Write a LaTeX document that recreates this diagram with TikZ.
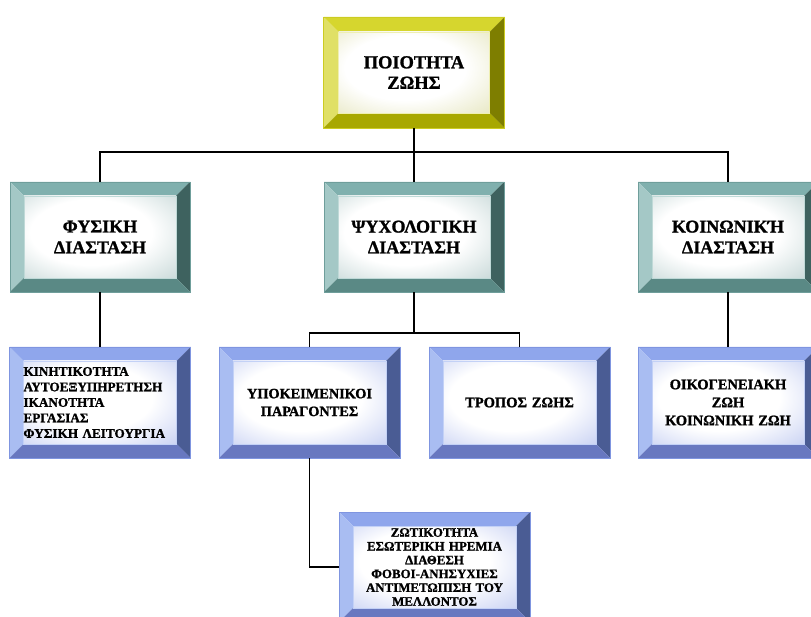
\documentclass[tikz,border=0pt]{standalone}
\usepackage{fontspec}
\setmainfont{Liberation Serif}[BoldFont={Liberation Serif Bold},BoldFeatures={FakeBold=1.2}]
\definecolor{yTop}{HTML}{D6D62E}
\definecolor{yLeft}{HTML}{E0E066}
\definecolor{yRight}{HTML}{7E7E00}
\definecolor{yBot}{HTML}{A8A800}
\definecolor{yBord}{HTML}{CCCC22}
\definecolor{yFace}{HTML}{CDCD80}
\definecolor{tTop}{HTML}{80B0AE}
\definecolor{tLeft}{HTML}{A4C8C6}
\definecolor{tRight}{HTML}{3E625F}
\definecolor{tBot}{HTML}{5A8985}
\definecolor{tBord}{HTML}{6F9E9B}
\definecolor{tFace}{HTML}{8CAFAE}
\definecolor{bTop}{HTML}{8FA6EC}
\definecolor{bLeft}{HTML}{A9BDF2}
\definecolor{bRight}{HTML}{4A5C94}
\definecolor{bBot}{HTML}{6878C0}
\definecolor{bBord}{HTML}{7F95E0}
\definecolor{bFace}{HTML}{8C9FE6}
\begin{document}
\pgfdeclareradialshading[facecol]{facefade}{\pgfpoint{-4bp}{4bp}}{color(0bp)=(white); color(20bp)=(white); color(48bp)=(facecol!70!white); color(72bp)=(facecol)}
\newcommand\bevelpic[7]{%
\fill[#1] (path picture bounding box.north west) -- (path picture bounding box.north east) -- ([shift={(-#6,-#6)}]path picture bounding box.north east) -- ([shift={(#6,-#6)}]path picture bounding box.north west) -- cycle;
\fill[#2] (path picture bounding box.north west) -- ([shift={(#6,-#6)}]path picture bounding box.north west) -- ([shift={(#6,#6)}]path picture bounding box.south west) -- (path picture bounding box.south west) -- cycle;
\fill[#3] (path picture bounding box.north east) -- ([shift={(-#6,-#6)}]path picture bounding box.north east) -- ([shift={(-#6,#6)}]path picture bounding box.south east) -- (path picture bounding box.south east) -- cycle;
\fill[#4] (path picture bounding box.south west) -- ([shift={(#6,#6)}]path picture bounding box.south west) -- ([shift={(-#6,#6)}]path picture bounding box.south east) -- (path picture bounding box.south east) -- cycle;
\colorlet{facecol}{#5}%
\shade[shading=facefade, draw=#7, line width=0.6pt] ([shift={(#6,-#6)}]path picture bounding box.north west) rectangle ([shift={(-#6,#6)}]path picture bounding box.south east);
}
\tikzset{
  box/.style={rectangle, inner sep=0pt, minimum width=181pt, minimum height=111pt, text width=165pt, align=center, line width=0.8pt},
  yellowbox/.style={box, draw=yBord, path picture={\bevelpic{yTop}{yLeft}{yRight}{yBot}{yFace}{15pt}{yLeft!50!white}}},
  tealbox/.style={box, draw=tBord, path picture={\bevelpic{tTop}{tLeft}{tRight}{tBot}{tFace}{14pt}{tLeft!70!white}}},
  bluebox/.style={box, draw=bBord, path picture={\bevelpic{bTop}{bLeft}{bRight}{bBot}{bFace}{14pt}{bLeft!70!white}}},
  conn/.style={draw=black, line width=1.6pt}
}
\begin{tikzpicture}[x=1pt,y=-1pt]
\useasboundingbox (0,0) rectangle (811,617);
\clip (0,0) rectangle (811,617);
\node[yellowbox, font=\bfseries\fontsize{18.4}{20.5}\selectfont] (top) at (414,72.5) {ΠΟΙΟΤΗΤΑ\\ΖΩΗΣ};
\node[tealbox, minimum width=180pt, minimum height=110pt, font=\bfseries\fontsize{18}{20.8}\selectfont] (fys) at (100,237) {ΦΥΣΙΚΗ\\ΔΙΑΣΤΑΣΗ};
\node[tealbox, minimum width=180pt, minimum height=110pt, font=\bfseries\fontsize{18}{20.8}\selectfont] (psy) at (414,237) {ΨΥΧΟΛΟΓΙΚΗ\\ΔΙΑΣΤΑΣΗ};
\node[tealbox, minimum width=180pt, minimum height=110pt, font=\bfseries\fontsize{18}{20.8}\selectfont] (soc) at (728,237) {ΚΟΙΝΩΝΙΚΉ\\ΔΙΑΣΤΑΣΗ};
\node[bluebox, text width=153pt, align=left, font=\bfseries\fontsize{13.2}{15.5}\selectfont] (fysd) at (100,402.5) {ΚΙΝΗΤΙΚΟΤΗΤΑ\\ΑΥΤΟΕΞΥΠΗΡΕΤΗΣΗ\\ΙΚΑΝΟΤΗΤΑ\\ΕΡΓΑΣΙΑΣ\\ΦΥΣΙΚΗ ΛΕΙΤΟΥΡΓΙΑ};
\node[bluebox, font=\bfseries\fontsize{14.3}{17.8}\selectfont] (ypo) at (309.5,402.5) {ΥΠΟΚΕΙΜΕΝΙΚΟΙ\\ΠΑΡΑΓΟΝΤΕΣ};
\node[bluebox, font=\bfseries\fontsize{14.5}{18}\selectfont] (tro) at (519.5,402.5) {ΤΡΟΠΟΣ ΖΩΗΣ};
\node[bluebox, minimum width=180pt, font=\bfseries\fontsize{14.5}{18}\selectfont] (socd) at (728,402.5) {ΟΙΚΟΓΕΝΕΙΑΚΗ\\ΖΩΗ\\ΚΟΙΝΩΝΙΚΗ ΖΩΗ};
\node[bluebox, minimum width=191pt, minimum height=110pt, text width=175pt, font=\bfseries\fontsize{12.9}{13.8}\selectfont] (zot) at (434.5,567) {ΖΩΤΙΚΟΤΗΤΑ\\ΕΣΩΤΕΡΙΚΗ ΗΡΕΜΙΑ\\ΔΙΑΘΕΣΗ\\ΦΟΒΟΙ-ΑΝΗΣΥΧΙΕΣ\\ΑΝΤΙΜΕΤΩΠΙΣΗ ΤΟΥ\\ΜΕΛΛΟΝΤΟΣ};
\coordinate (bus) at (414,152);
\coordinate (bustwo) at (414,333);
\draw[conn] (top.south) -- (bus);
\draw[conn] (fys.north) -- (fys.north |- bus) -- (soc.north |- bus) -- (soc.north);
\draw[conn] (bus) -- (psy.north);
\draw[conn] (fys.south) -- (fysd.north);
\draw[conn] (soc.south) -- (socd.north);
\draw[conn] (psy.south) -- (bustwo);
\draw[conn] (ypo.north) -- (ypo.north |- bustwo) -- (tro.north |- bustwo) -- (tro.north);
\draw[conn] (ypo.south) |- (zot.west);
\end{tikzpicture}
\end{document}
